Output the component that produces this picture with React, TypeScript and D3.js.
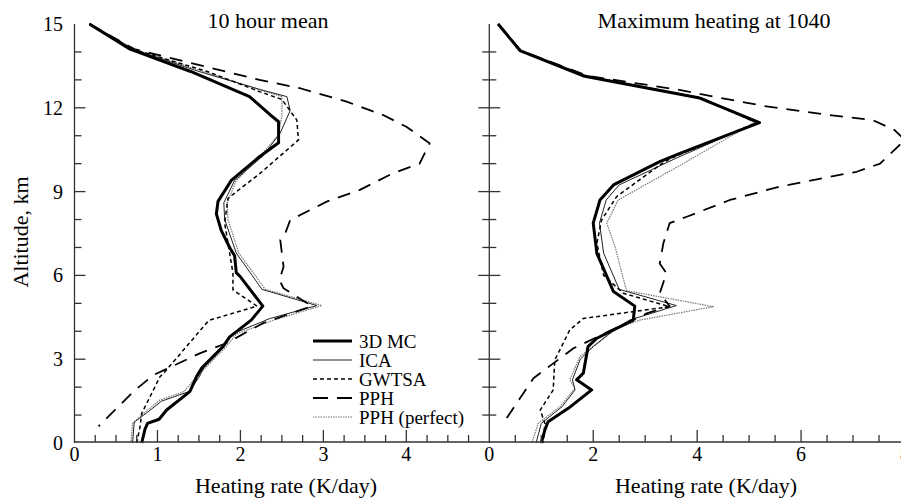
import { useEffect, useRef } from "react";
import * as d3 from "d3";

// [altitude km, heating rate K/day]
type Pt = [number, number];

const seriesNames = ["3D MC", "ICA", "GWTSA", "PPH", "PPH (perfect)"];
const altTicks = [0, 3, 6, 9, 12, 15];
const meanTicks = [0, 1, 2, 3, 4];
const peakTicks = [0, 2, 4, 6, 8];

// 10 hour mean
const meanMC: Pt[] = [[15, 0.18], [14.1, 0.67], [13.3, 1.4], [12.4, 2.11], [11.75, 2.36], [11.5, 2.46], [10.75, 2.46], [10.25, 2.23], [9.4, 1.89], [8.65, 1.73], [8.2, 1.71], [7.6, 1.77], [7.0, 1.87], [6.7, 1.93], [6.1, 1.95], [5.95, 2.0], [4.9, 2.27], [4.4, 2.13], [3.8, 1.87], [3.45, 1.79], [2.67, 1.53], [2.37, 1.47], [1.84, 1.39], [1.18, 1.11], [0.85, 1.02], [0.7, 0.88], [0.5, 0.85], [0, 0.81]];
const meanICA: Pt[] = [[15, 0.18], [14.1, 0.7], [13.3, 1.5], [12.66, 2.23], [12.4, 2.56], [11.9, 2.6], [11.1, 2.48], [10.3, 2.28], [9.4, 1.93], [8.6, 1.8], [8.0, 1.81], [6.8, 1.95], [5.5, 2.26], [4.92, 2.92], [4.45, 2.35], [3.9, 1.9], [3.45, 1.8], [2.7, 1.56], [2.35, 1.5], [1.84, 1.38], [1.5, 1.05], [1.1, 0.88], [0.75, 0.72], [0, 0.7]];
const meanGWTSA: Pt[] = [[15, 0.18], [14.1, 0.7], [13.3, 1.6], [12.58, 2.23], [12.3, 2.5], [11.56, 2.68], [10.85, 2.7], [9.66, 2.24], [8.76, 1.85], [7.87, 1.81], [6.08, 1.91], [5.48, 1.91], [4.9, 2.2], [4.4, 1.63], [4.29, 1.59], [2.55, 1.09], [2.37, 1.03], [1.06, 0.81], [0.58, 0.79], [0, 0.75]];
const meanPPH: Pt[] = [[15, 0.18], [14.1, 0.72], [13.0, 2.23], [12.7, 2.72], [12.22, 3.28], [11.74, 3.72], [11.32, 4.0], [10.73, 4.28], [10.0, 4.16], [9.66, 3.84], [9.06, 3.44], [8.64, 3.04], [7.98, 2.6], [7.5, 2.54], [7.27, 2.48], [6.31, 2.52], [5.84, 2.47], [5.54, 2.52], [4.9, 2.86], [4.29, 2.27], [3.57, 1.83], [3.21, 1.51], [2.79, 1.21], [2.43, 0.95], [1.84, 0.71], [0.6, 0.29]];
const meanPerfect: Pt[] = [[15, 0.18], [14.1, 0.72], [13.3, 1.55], [12.4, 2.5], [11.7, 2.5], [11.0, 2.45], [10.3, 2.25], [9.4, 1.95], [8.6, 1.84], [8.0, 1.85], [6.8, 1.98], [5.5, 2.3], [4.92, 2.98], [4.4, 2.4], [3.9, 1.95], [3.45, 1.83], [2.7, 1.58], [2.3, 1.45], [1.84, 1.32], [1.54, 1.03], [1.1, 0.85], [0.7, 0.7], [0, 0.68]];

// maximum heating at 1040
const peakMC: Pt[] = [[15, 0.17], [14.05, 0.59], [13.14, 1.81], [12.35, 4.05], [11.47, 5.2], [10.37, 3.67], [10.07, 3.28], [9.24, 2.39], [8.7, 2.13], [7.87, 2.0], [6.79, 2.07], [5.42, 2.39], [4.9, 2.8], [4.4, 2.77], [4.05, 2.39], [3.75, 2.07], [3.45, 1.9], [2.5, 1.81], [2.26, 1.68], [1.9, 1.97], [1.24, 1.52], [0.76, 1.13], [0.47, 1.07], [0, 1.0]];
const peakICA: Pt[] = [[15, 0.17], [14.05, 0.6], [13.14, 1.85], [12.35, 4.1], [11.47, 5.15], [10.2, 3.6], [9.24, 2.5], [8.7, 2.25], [7.87, 2.12], [6.8, 2.2], [5.5, 2.5], [4.92, 3.6], [4.4, 2.7], [4.05, 2.4], [3.45, 2.0], [3.0, 1.75], [2.26, 1.6], [1.9, 1.65], [1.3, 1.4], [0.7, 1.0], [0, 0.9]];
const peakGWTSA: Pt[] = [[15, 0.17], [14.05, 0.6], [13.14, 1.85], [12.35, 4.05], [11.47, 5.15], [10.2, 3.5], [9.95, 3.28], [8.82, 2.45], [7.98, 2.16], [7.15, 2.07], [6.0, 2.2], [5.36, 2.58], [4.88, 3.47], [4.46, 1.81], [4.05, 1.55], [2.97, 1.26], [1.9, 1.23], [1.18, 0.98], [0.7, 1.07], [0, 1.04]];
const peakPPH: Pt[] = [[15, 0.17], [14.05, 0.6], [13.14, 1.9], [12.66, 3.6], [12.4, 4.31], [12.07, 5.27], [11.74, 6.55], [11.56, 7.38], [11.2, 7.8], [10.85, 8.0], [10.0, 7.52], [9.71, 7.07], [9.53, 6.55], [9.18, 5.59], [8.7, 4.63], [8.1, 3.8], [7.87, 3.47], [7.15, 3.35], [6.43, 3.28], [6.08, 3.41], [5.36, 3.28], [4.9, 3.47], [4.64, 3.03], [3.39, 1.62], [2.32, 0.85], [0.88, 0.33], [0.64, 0.3]];
const peakPerfect: Pt[] = [[15, 0.17], [14.05, 0.62], [13.14, 1.9], [12.35, 4.1], [11.47, 5.1], [10.0, 3.73], [8.7, 2.48], [7.87, 2.26], [7.03, 2.42], [5.66, 2.61], [5.45, 2.65], [4.88, 4.31], [4.4, 2.9], [4.1, 2.45], [3.09, 1.74], [2.26, 1.55], [1.96, 1.65], [1.3, 1.36], [0.7, 0.94], [0, 0.82]];

const styles = [
  { stroke: "#000", width: 3, dash: null },
  { stroke: "#222", width: 1, dash: null },
  { stroke: "#000", width: 1.5, dash: "4 3" },
  { stroke: "#000", width: 1.8, dash: "13 9" },
  { stroke: "#777", width: 1.2, dash: "1.5 1" },
];
// draw thin ones first, thick last
const drawOrder = [4, 1, 2, 3, 0];

const W = 901, H = 502;
const font = "Liberation Serif, Times New Roman, DejaVu Serif, serif";

const App = () => {
  const ref = useRef<SVGSVGElement>(null);

  useEffect(() => {
    const svg = d3.select(ref.current);
    svg.selectAll("*").remove();

    const y = d3.scaleLinear().domain([0, 15]).range([443, 24]);

    const panels = [
      { title: "10 hour mean", titleX: 268, domain: [0, 5], range: [74.5, 489.3], minor: 0.25, labels: meanTicks, data: [meanMC, meanICA, meanGWTSA, meanPPH, meanPerfect], ticksBoth: false },
      { title: "Maximum heating at 1040", titleX: 714, domain: [0, 8], range: [489.3, 905], minor: 0.5, labels: peakTicks, data: [peakMC, peakICA, peakGWTSA, peakPPH, peakPerfect], ticksBoth: true },
    ];

    svg.append("defs").append("clipPath").attr("id", "clipR")
      .append("rect").attr("x", 489).attr("y", 0).attr("width", W - 489).attr("height", H);

    panels.forEach((p, pi) => {
      const x = d3.scaleLinear().domain(p.domain).range(p.range);
      const g = svg.append("g");

      // curves
      const line = d3.line<Pt>().x(d => x(d[1])).y(d => y(d[0]));
      const curves = g.append("g").attr("clip-path", pi === 1 ? "url(#clipR)" : null);
      drawOrder.forEach(si => {
        const s = styles[si];
        curves.append("path")
          .datum(p.data[si])
          .attr("d", line)
          .attr("fill", "none")
          .attr("stroke", s.stroke)
          .attr("stroke-width", s.width)
          .attr("stroke-dasharray", s.dash)
          .attr("stroke-linejoin", "round");
      });

      // y axis line + ticks
      const x0 = p.range[0];
      g.append("line").attr("x1", x0).attr("x2", x0).attr("y1", y(15)).attr("y2", y(0))
        .attr("stroke", "#333").attr("stroke-width", 1.3);
      d3.range(1, 15).forEach(a => {
        const major = a % 3 === 0;
        const len = major ? 11 : 7;
        g.append("line")
          .attr("x1", p.ticksBoth ? x0 - len : x0).attr("x2", x0 + len)
          .attr("y1", y(a)).attr("y2", y(a))
          .attr("stroke", "#333").attr("stroke-width", 1.3);
      });

      // x axis ticks
      const xMax = p.domain[1];
      d3.range(p.minor, xMax + 1e-9, p.minor).forEach(v => {
        if (pi === 0 && v >= xMax) return;
        const major = p.labels.some(l => Math.abs(l - v) < 1e-6);
        g.append("line")
          .attr("x1", x(v)).attr("x2", x(v))
          .attr("y1", 442).attr("y2", 442 - (major ? 12 : 7))
          .attr("stroke", "#333").attr("stroke-width", 1.3);
      });
      g.selectAll(".xl").data(p.labels).join("text")
        .attr("x", d => x(d)).attr("y", 461)
        .attr("text-anchor", "middle")
        .attr("font-family", font).attr("font-size", 20)
        .text(d => d);

      // titles
      g.append("text").attr("x", p.titleX).attr("y", 28)
        .attr("text-anchor", "middle").attr("font-family", font).attr("font-size", 22)
        .text(p.title);
      g.append("text").attr("x", pi === 0 ? 286 : 706).attr("y", 493)
        .attr("text-anchor", "middle").attr("font-family", font).attr("font-size", 22)
        .text("Heating rate (K/day)");
    });

    // bottom axis line
    svg.append("line").attr("x1", 74.5).attr("x2", W).attr("y1", 442).attr("y2", 442)
      .attr("stroke", "#333").attr("stroke-width", 1.3);

    // altitude labels
    svg.selectAll(".yl").data(altTicks).join("text")
      .attr("x", 63).attr("y", d => y(d)).attr("dy", "0.35em")
      .attr("text-anchor", "end")
      .attr("font-family", font).attr("font-size", 20)
      .text(d => d);
    svg.append("text")
      .attr("transform", `translate(28,232) rotate(-90)`)
      .attr("text-anchor", "middle").attr("font-family", font).attr("font-size", 22)
      .text("Altitude, km");

    // legend
    const lg = svg.append("g");
    seriesNames.forEach((name, i) => {
      const s = styles[i];
      const ly = 341 + i * 19;
      lg.append("line").attr("x1", 313).attr("x2", 352).attr("y1", ly).attr("y2", ly)
        .attr("stroke", s.stroke).attr("stroke-width", s.width)
        .attr("stroke-dasharray", i === 3 ? "15 9" : s.dash);
      lg.append("text").attr("x", 359).attr("y", ly).attr("dy", "0.35em")
        .attr("font-family", font).attr("font-size", 19)
        .text(name);
    });
  }, []);

  return (
    <svg ref={ref} width={W} height={H}
      style={{ position: "absolute", left: 0, top: 0, background: "#fff" }} />
  );
};

export default App;
